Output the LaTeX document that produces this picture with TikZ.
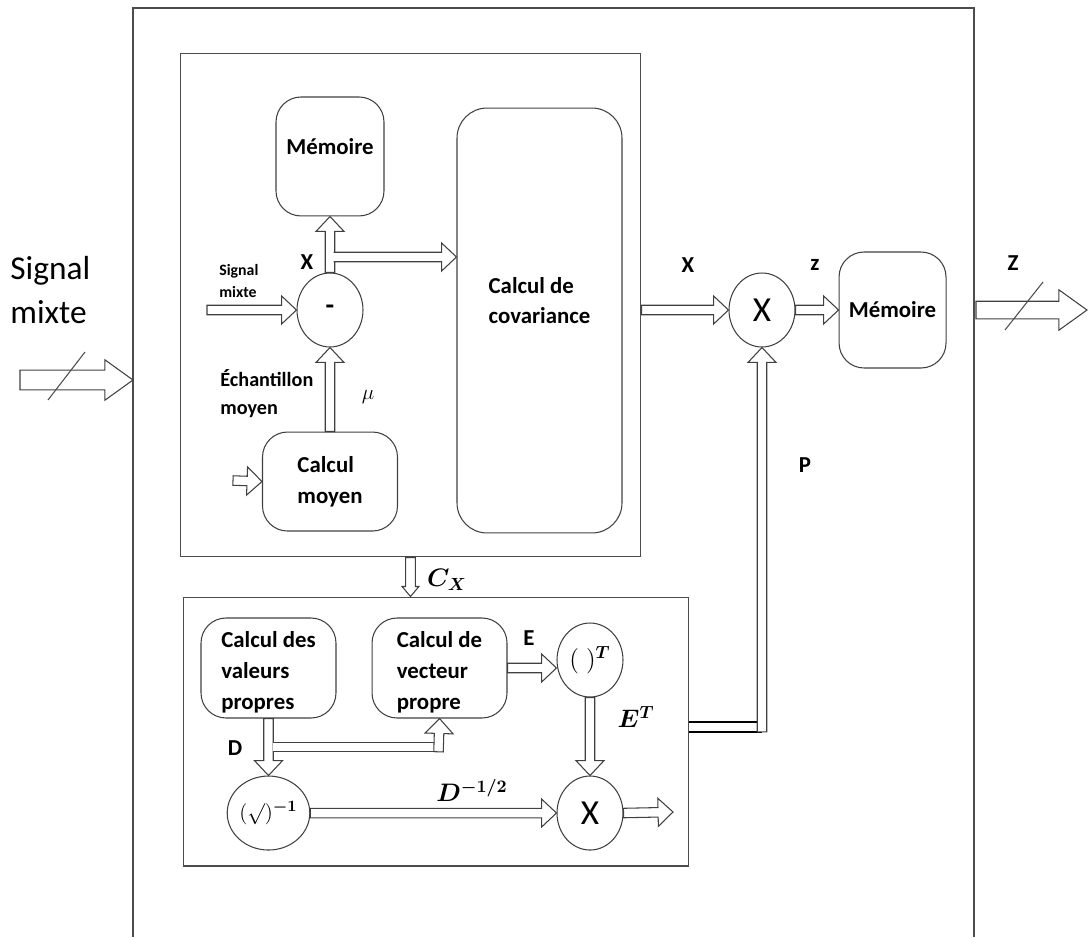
\documentclass[tikz,border=0pt]{standalone}
\usepackage{fontspec}
\setmainfont{Carlito}
\usepackage{amsmath}
\usepackage{bm}
\usetikzlibrary{calc,positioning,shapes.geometric}
\newcommand{\pcafont}{\fontsize{13}{17.5}\selectfont\bfseries}
\tikzset{
    pcaframe/.style={draw=black!70, line width=0.6pt},
    pcablock/.style={draw=black!75, line width=0.6pt, rounded corners=0.5cm, align=left, font=\pcafont, inner sep=0pt},
    pcaop/.style={draw=black!75, line width=0.6pt, ellipse, inner sep=0pt, minimum width=1.32cm, minimum height=1.48cm},
    pcanote/.style={align=left, font=\pcafont, inner sep=0pt},
    pcamath/.style={font=\fontsize{14}{16}\selectfont, inner sep=0pt},
    pcaline/.style={draw=black!75, line width=0.6pt, fill=white},
    pcadouble/.style={draw=black!75, line width=0.6pt, double=white, double distance=4.8pt},
    pca/shaft/.store in=\pcaw, pca/head/.store in=\pcaW, pca/len/.store in=\pcah,
    pca/open/.code={\def\pcatail{}},
    pcabig/.style={pca/shaft=5.6pt, pca/head=11.5pt, pca/len=16pt},
    pca/shaft=2.7pt, pca/head=8pt, pca/len=8.5pt
}
\def\pcatail{-- cycle}
% hollow (outlined) arrow from #2 to #3
\newcommand{\pcaarrow}[3][]{%
    \draw[pcaline,#1] let \p1=(#2), \p2=(#3),
        \n1={atan2(\y2-\y1,\x2-\x1)}, \n2={veclen(\x2-\x1,\y2-\y1)} in
        [shift={(\p1)}, rotate=\n1]
        (0,\pcaw) -- ({\n2*1pt-\pcah},\pcaw) -- ({\n2*1pt-\pcah},\pcaW)
        -- ({\n2*1pt},0) -- ({\n2*1pt-\pcah},-\pcaW)
        -- ({\n2*1pt-\pcah},-\pcaw) -- (0,-\pcaw) \pcatail;}

\begin{document}
\begin{tikzpicture}[x=0.02cm, y=-0.02cm]
    \useasboundingbox (0,0) rectangle (1088,937);
    % outer frame, open at the bottom
    \draw[pcaframe] (133,937) |- (974,8) -- (974,937);
    \coordinate (sigl) at (20,380);
    \coordinate (sigr) at (133,380);
    \coordinate (zin) at (976,310);
    \coordinate (zend) at (1087,310);

    % centring block
    \node[pcaframe, minimum width=9.22cm, minimum height=10.08cm] (upper) at (410.5,305) {};
    \node[pcaop, font=\fontsize{16}{16}\selectfont\bfseries] (minus) at (330,310) {-};
    \node[pcablock, minimum width=2.16cm, minimum height=2.38cm, above=1.12cm of minus,
        label={[pcanote, yshift=0.19cm]center:Mémoire}] (mem1) {};
    \node[pcablock, minimum width=2.7cm, minimum height=1.98cm, below=1.68cm of minus] (moy) {Calcul\\moyen};
    \node[pcablock, minimum width=3.3cm, minimum height=8.5cm, rounded corners=0.6cm,
        label={[pcanote, yshift=0.4cm]center:Calcul de\\covariance}] (cov) at (539.5,320.5) {};

    % whitening block
    \node[pcaframe, minimum width=10.12cm, minimum height=5.38cm] (lower) at (436,731.5) {};
    \node[pcablock, minimum width=2.7cm, minimum height=2cm,
        label={[pcanote, yshift=-0.09cm]center:Calcul des\\valeurs\\propres}] (valp) at (268.5,668) {};
    \node[pcablock, minimum width=2.7cm, minimum height=2cm, right=0.7cm of valp,
        label={[pcanote, yshift=-0.09cm]center:Calcul de\\vecteur\\propre}] (vecp) {};
    \node[pcaop, font=\fontsize{14}{14}\selectfont] (trans) at (590,660) {$(\;)^{\bm{T}}$};
    \node[pcaop, font=\fontsize{20}{20}\selectfont, below=1.56cm of trans] (xlow) {X};
    \node[pcaop, font=\fontsize{13}{13}\selectfont, below=1.14cm of valp] (isqrt) {$(\surd)^{\bm{-1}}$};

    % output side
    \node[pcaop, font=\fontsize{20}{20}\selectfont] (xtop) at (762,310) {X};
    \node[pcablock, minimum width=2.14cm, minimum height=2.32cm, right=0.86cm of xtop] (mem2) {Mémoire};

    % labels
    \node[pcanote, anchor=west, font=\fontsize{19}{25}\selectfont] (sigtxt) at (10,290) {Signal\\mixte};
    \node[pcanote, anchor=west, font=\fontsize{9}{12.5}\selectfont\bfseries] (sigsmall) at (219,281) {Signal\\mixte};
    \node[pcanote] (xlbl) at (307,262) {X};
    \node[pcanote, anchor=west, font=\fontsize{11.5}{16}\selectfont\bfseries] (echlbl) at (220,394) {Échantillon\\moyen};
    \node[pcamath, font=\fontsize{12}{14}\selectfont] (mulbl) at (368,397) {$\mu$};
    \node[pcanote] (xout) at (688,265) {X};
    \node[pcanote] (zlbl) at (815,265) {z};
    \node[pcanote] (Zlbl) at (1013,263) {Z};
    \node[pcanote] (plbl) at (805,465) {P};
    \node[pcamath] (cxlbl) at (447,580) {$\bm{C_X}$};
    \node[pcanote] (elbl) at (529,638) {E};
    \node[pcamath] (etlbl) at (636,717) {$\bm{E^T}$};
    \node[pcanote] (dlbl) at (235,748) {D};
    \node[pcamath] (dhlbl) at (472,790) {$\bm{D^{-1/2}}$};

    % arrows, upper part
    \coordinate (sigm) at (207,310);
    \coordinate (moyin) at (233,480.5);
    \coordinate (xsplit) at (333.6,257);
    \pcaarrow[pcabig]{sigl}{sigr}
    \draw[pcaframe] (48,400) -- (85,352);
    \pcaarrow{sigm}{minus.west}
    \pcaarrow{moyin}{moy.west}
    \pcaarrow{moy.north}{minus.south}
    \pcaarrow{minus.north}{mem1.south}
    \pcaarrow[pca/open]{xsplit}{cov.west |- xsplit}
    \pcaarrow{upper.east |- xtop}{xtop.west}
    \pcaarrow{xtop.east}{mem2.west}
    \pcaarrow[pcabig, pca/shaft=5pt]{zin}{zend}
    \draw[pcaframe] (1005,330) -- (1043,282);
    \pcaarrow[pca/shaft=2.8pt, pca/head=4.8pt, pca/len=5.7pt]{upper.south}{upper.south |- lower.north}

    % arrows, lower part
    \coordinate (dsplit) at (273,747);
    \coordinate (dturn) at (438.5,747);
    \coordinate (dstem) at (438.5,751.8);
    \coordinate (xend) at (673,812);
    \coordinate (pturn) at (762,727);
    \coordinate (pstem) at (762,731.8);
    \pcaarrow{vecp.east}{trans.west |- vecp.east}
    \pcaarrow{trans.south}{xlow.north}
    \pcaarrow{valp.south}{isqrt.north}
    \draw[pcadouble] (dsplit) -- (dturn);
    \pcaarrow{dstem}{vecp.south}
    \pcaarrow{isqrt.east}{xlow.west}
    \pcaarrow{xlow.east}{xend}
    \draw[pcadouble, draw=black, line width=1.1pt, double distance=4.3pt] (lower.east |- pturn) -- (pturn);
    \pcaarrow{pstem}{xtop.south}
\end{tikzpicture}
\end{document}
